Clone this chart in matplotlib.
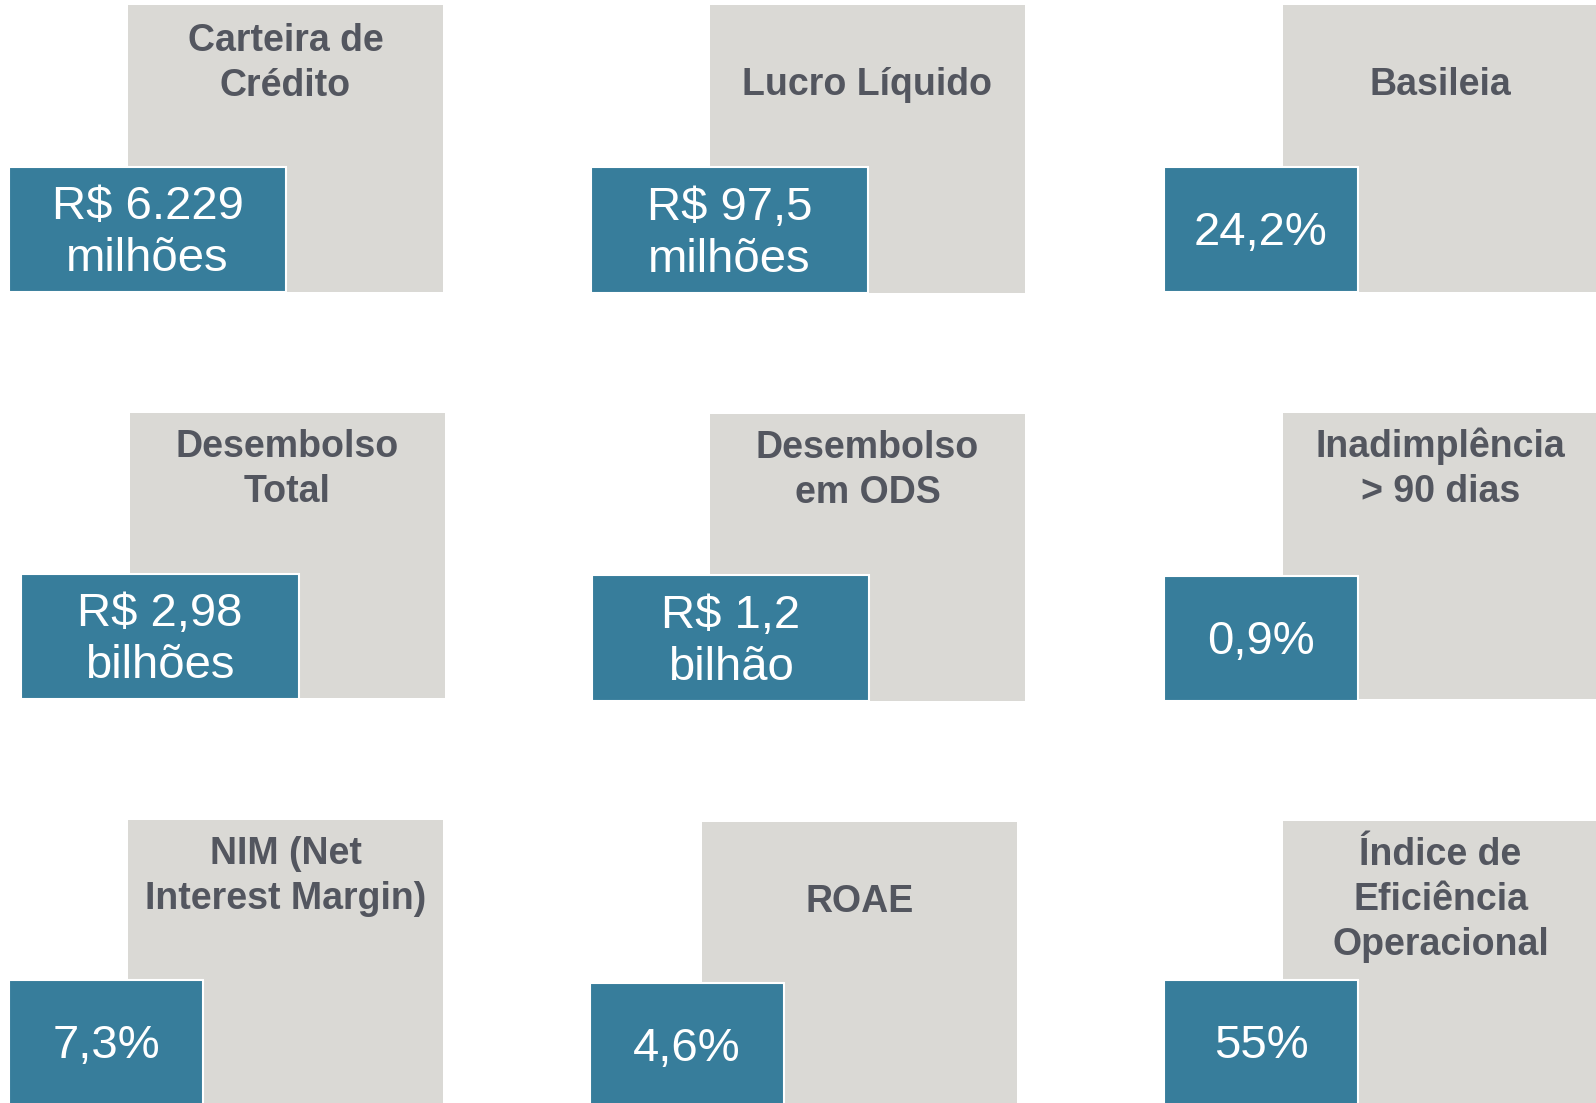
import matplotlib.pyplot as plt
from matplotlib.patches import Rectangle

plt.rcParams['font.family'] = ['Liberation Sans', 'DejaVu Sans']

# indicator titles and values
titles = ["Carteira de\nCrédito", "Lucro Líquido", "Basileia",
          "Desembolso\nTotal", "Desembolso\nem ODS", "Inadimplência\n> 90 dias",
          "NIM (Net\nInterest Margin)", "ROAE", "Índice de\nEficiência\nOperacional"]
values = ["R$ 6.229\nmilhões", "R$ 97,5\nmilhões", "24,2%",
          "R$ 2,98\nbilhões", "R$ 1,2\nbilhão", "0,9%",
          "7,3%", "4,6%", "55%"]

# layout in pixels (x0, y0, x1, y1), y measured from the top
grey_boxes = [(128, 5, 443, 292), (710, 5, 1025, 293), (1283, 5, 1598, 292),
              (130, 413, 445, 698), (710, 414, 1025, 701), (1283, 413, 1598, 699),
              (128, 820, 443, 1107), (702, 822, 1017, 1109), (1283, 821, 1598, 1108)]
blue_boxes = [(9, 167, 286, 292), (591, 167, 868, 293), (1164, 167, 1358, 292),
              (21, 574, 299, 699), (592, 575, 869, 701), (1164, 576, 1358, 701),
              (9, 980, 203, 1105), (590, 983, 784, 1108), (1164, 980, 1358, 1105)]
title_first_baseline = [50.7, 95, 95, 456.7, 458, 457, 864, 911.7, 865]

GREY = '#DAD9D5'
BLUE = '#377D9B'
TITLE_COLOR = '#53565F'

W, H = 1596, 1103
fig = plt.figure(figsize=(W / 100, H / 100), dpi=100)
ax = fig.add_axes([0, 0, 1, 1])
ax.set_xlim(0, W)
ax.set_ylim(H, 0)
ax.axis('off')

for i in range(len(titles)):
    gx0, gy0, gx1, gy1 = grey_boxes[i]
    ax.add_patch(Rectangle((gx0, gy0), gx1 - gx0, gy1 - gy0, facecolor=GREY,
                           edgecolor='none', zorder=1))
    gcx = (gx0 + gx1) / 2
    for j, line in enumerate(titles[i].split('\n')):
        ax.text(gcx, title_first_baseline[i] + j * 45, line, ha='center', va='baseline',
                fontsize=27, fontweight='bold', color=TITLE_COLOR, zorder=2)

    bx0, by0, bx1, by1 = blue_boxes[i]
    ax.add_patch(Rectangle((bx0, by0), bx1 - bx0, by1 - by0, facecolor=BLUE,
                           edgecolor='white', linewidth=1.5, zorder=3))
    bcx = (bx0 + bx1) / 2
    bcy = (by0 + by1) / 2
    lines = values[i].split('\n')
    n = len(lines)
    for j, line in enumerate(lines):
        ax.text(bcx, bcy + 15.5 + (j - (n - 1) / 2) * 52, line, ha='center', va='baseline',
                fontsize=34, color='white', zorder=4)

fig.savefig('out.png', dpi=100)
